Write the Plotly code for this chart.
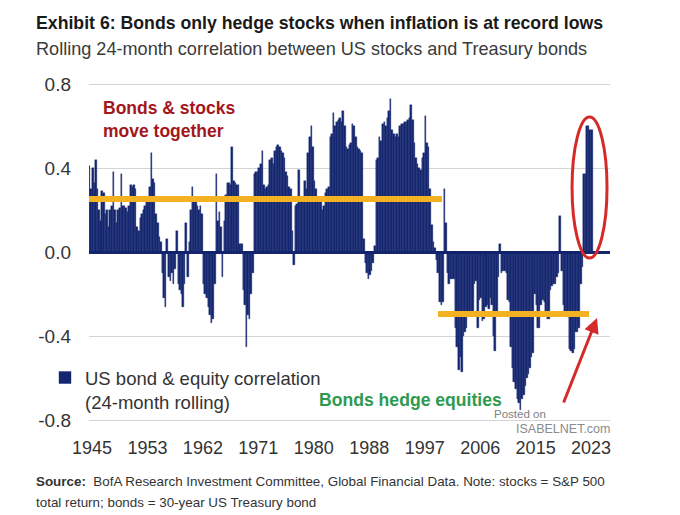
import plotly.graph_objects as go
import pandas as pd

# ---------------- data (quarterly readings, first bar = Q3 1944) ----------------
first_quarter = "1944-07-01"
corr_1944_1949 = [0.41, 0.30,
                  0.40, 0.33, 0.44, 0.30,
                  0.20, 0.15, 0.29, 0.28,
                  0.18, 0.20, 0.12, 0.20,
                  0.22, 0.38, 0.20, 0.14,
                  0.20, 0.21, 0.37, 0.22]
corr_1950s = [0.22, 0.21, 0.19, 0.22,
              0.32, 0.31, 0.32, 0.30,
              0.12, 0.10, 0.16, 0.18,
              0.20, 0.22, 0.25, 0.26,
              0.31, 0.47, 0.35, 0.33,
              0.18, 0.14, 0.07, 0.05,
              -0.10, -0.22, -0.26, 0.06,
              -0.12, -0.14, -0.10, -0.15,
              -0.08, 0.10, -0.15, -0.18,
              -0.20, -0.26, -0.15, 0.14]
corr_1960s = [-0.12, 0.05, 0.20, 0.31,
              0.26, 0.24, 0.22, 0.20,
              0.22, 0.18, -0.15, -0.20,
              -0.22, -0.26, -0.30, -0.34,
              -0.32, -0.15, 0.37, 0.15,
              0.19, 0.12, -0.12, 0.15,
              0.27, 0.33, 0.33, 0.32,
              0.50, 0.34, 0.33, 0.32,
              0.32, 0.04, 0.04, -0.18,
              -0.25, -0.45, -0.30, -0.32]
corr_1970s = [-0.20, -0.10, 0.37, 0.38,
              0.38, 0.40, 0.42, 0.48,
              0.32, 0.30, 0.31, 0.32,
              0.44, 0.45, 0.42, 0.48,
              0.50, 0.51, 0.50, 0.48,
              0.47, 0.45, 0.38, 0.36,
              0.31, 0.30, 0.10, -0.06,
              0.22, 0.23, 0.39, 0.25,
              0.24, 0.25, 0.34, 0.30,
              0.47, 0.55, 0.60, 0.50]
corr_1980s = [0.34, 0.30, 0.25, 0.24,
              0.26, 0.20, 0.22, 0.28,
              0.30, 0.31, 0.55, 0.56,
              0.66, 0.60, 0.62, 0.63,
              0.64, 0.62, 0.67, 0.60,
              0.50, 0.49, 0.51, 0.52,
              0.61, 0.60, 0.55, 0.50,
              0.49, 0.48, 0.47, 0.06,
              -0.05, -0.10, -0.13, -0.11,
              -0.09, -0.05, 0.03, 0.44]
corr_1990s = [0.45, 0.55, 0.53, 0.61,
              0.62, 0.60, 0.64, 0.67,
              0.73, 0.58, 0.56, 0.55,
              0.56, 0.55, 0.60, 0.61,
              0.61, 0.62, 0.62, 0.63,
              0.64, 0.70, 0.63, 0.52,
              0.45, 0.42, 0.40, 0.39,
              0.45, 0.47, 0.65, 0.52,
              0.50, 0.30, 0.13, 0.05,
              0.02, -0.04, -0.10, -0.24]
corr_2000s = [-0.25, -0.24, 0.30, 0.14,
              -0.10, -0.15, -0.13, -0.13,
              -0.13, -0.36, -0.45, -0.56,
              -0.50, -0.57, -0.40, -0.38,
              -0.36, -0.30, -0.30, -0.29,
              -0.30, -0.15, -0.14, -0.36,
              -0.23, -0.22, -0.33, -0.32,
              -0.26, -0.25, -0.27, -0.22,
              -0.25, -0.40, -0.47, -0.30,
              -0.12, 0.04, -0.10, -0.09]
corr_2010s = [-0.09, -0.10, -0.23, -0.24,
              -0.45, -0.55, -0.62, -0.65,
              -0.70, -0.72, -0.75, -0.70,
              -0.68, -0.64, -0.60, -0.58,
              -0.55, -0.50, -0.48, -0.20,
              -0.25, -0.36, -0.36, -0.25,
              -0.23, -0.24, -0.30, -0.32,
              -0.32, -0.18, -0.16, -0.15,
              -0.15, -0.12, -0.10, 0.17,
              -0.09, -0.25, -0.30, -0.30]
corr_2020s = [-0.31, -0.46, -0.47, -0.48,
              -0.46, -0.38, -0.38, -0.36,
              -0.15, -0.07, 0.37, 0.37,
              0.60, 0.60, 0.58, 0.58]

tick_dates = ["1945-01-01", "1953-10-01", "1962-07-01", "1971-04-01", "1980-01-01",
              "1988-10-01", "1997-07-01", "2006-04-01", "2015-01-01", "2023-10-01"]
tick_labels = ["1945", "1953", "1962", "1971", "1980", "1988", "1997", "2006", "2015", "2023"]
y_ticks = [-0.8, -0.4, 0.0, 0.4, 0.8]
y_tick_labels = ["-0.8", "-0.4", "0.0", "0.4", "0.8"]

together_level = 0.252      # average correlation, "move together" regime
hedge_level = -0.295        # average correlation, "hedge" regime

title = "Exhibit 6: Bonds only hedge stocks when inflation is at record lows"
subtitle = "Rolling 24-month correlation between US stocks and Treasury bonds"
series_name = "US bond & equity correlation<br>(24-month rolling)"
source_line1 = "<b>Source:</b>  BofA Research Investment Committee, Global Financial Data. Note: stocks = S&P 500"
source_line2 = "total return; bonds = 30-year US Treasury bond"

# ---------------- build ----------------
values = (corr_1944_1949 + corr_1950s + corr_1960s + corr_1970s + corr_1980s
          + corr_1990s + corr_2000s + corr_2010s + corr_2020s)
dates = pd.date_range(first_quarter, periods=len(values), freq="QS")
QUARTER_MS = 0.25 * 365.25 * 86400000

NAVY = "#14266f"
FONT = "Liberation Sans, Arial, sans-serif"

OFF = 8                       # page body margin
W, H = 680 - OFF, 515 - OFF
L, R, T, B = 89 - OFF, 610 - OFF, 70 - OFF, 430 - OFF


def xp(px):
    """page pixel -> paper x"""
    return (px - OFF - L) / (R - L)


def yp(py):
    """page pixel -> paper y"""
    return (B - (py - OFF)) / (B - T)


fig = go.Figure()
fig.add_trace(go.Bar(
    x=dates, y=values, name=series_name,
    marker=dict(color=NAVY, line=dict(color=NAVY, width=0.4)),
    width=QUARTER_MS, offset=0, showlegend=True,
))

x_start = "1944-07-11"
x_end = "2026-09-27"

fig.update_layout(
    width=W, height=H,
    margin=dict(l=L, r=W - R, t=T, b=H - B, pad=0),
    paper_bgcolor="white", plot_bgcolor="white",
    bargap=0,
    font=dict(family=FONT, color="#333333"),
    xaxis=dict(
        type="date", range=[x_start, x_end],
        tickvals=tick_dates, ticktext=tick_labels,
        showgrid=False, zeroline=False, showline=False, ticks="",
        ticklabelstandoff=5,
        tickfont=dict(size=18, color="#333333"),
    ),
    yaxis=dict(
        range=[-0.8 - 10 / 210, 0.8 + 14 / 210],
        tickvals=y_ticks, ticktext=y_tick_labels,
        showgrid=True, gridcolor="#d4d4d4", gridwidth=1,
        zeroline=True, zerolinecolor=NAVY, zerolinewidth=2.5,
        showline=False, ticks="", ticklabelstandoff=17,
        tickfont=dict(size=19, color="#333333"),
    ),
    legend=dict(
        x=xp(45), y=yp(359), xanchor="left", yanchor="top",
        bgcolor="rgba(0,0,0,0)", valign="top",
        font=dict(size=18.5, color="#333333", family=FONT),
        itemclick=False,
    ),
)

# regime averages
fig.add_shape(type="line", xref="x", yref="y", x0=x_start, x1="2000-03-25",
              y0=together_level, y1=together_level,
              line=dict(color="#f4b223", width=6))
fig.add_shape(type="line", xref="x", yref="y", x0="1999-08-07", x1="2023-06-07",
              y0=hedge_level, y1=hedge_level,
              line=dict(color="#f4b223", width=6))
# highlight of the latest readings
fig.add_shape(type="circle", xref="x", yref="y", x0="2020-10-01", x1="2026-04-08",
              y0=-0.029, y1=0.643, line=dict(color="#d42a2a", width=3))

# arrow
fig.add_annotation(x="2024-09-10", y=-0.314, xref="x", yref="y", text="",
                   showarrow=True, ax=-34, ay=86, arrowhead=2, arrowsize=1,
                   arrowwidth=3, arrowcolor="#d42a2a")

# texts
fig.add_annotation(x=xp(34), y=yp(23), xref="paper", yref="paper", xanchor="left", yanchor="middle",
                   text="<b>" + title + "</b>", showarrow=False,
                   font=dict(family=FONT, size=17.7, color="#1a1a1a"))
fig.add_annotation(x=xp(34), y=yp(49), xref="paper", yref="paper", xanchor="left", yanchor="middle",
                   text=subtitle, showarrow=False,
                   font=dict(family=FONT, size=18.1, color="#3a3a3a"))
fig.add_annotation(x=xp(101), y=yp(120), xref="paper", yref="paper", xanchor="left", yanchor="middle",
                   align="left", text="<b>Bonds & stocks<br>move together</b>", showarrow=False,
                   font=dict(family=FONT, size=17.5, color="#a3161c"))
fig.add_annotation(x=xp(317), y=yp(400), xref="paper", yref="paper", xanchor="left", yanchor="middle",
                   text="<b>Bonds hedge equities</b>", showarrow=False,
                   font=dict(family=FONT, size=17.6, color="#2e9a50"))
fig.add_annotation(x=xp(492), y=yp(414), xref="paper", yref="paper", xanchor="left", yanchor="middle",
                   text="Posted on", showarrow=False,
                   font=dict(family=FONT, size=11.5, color="#808080"))
fig.add_annotation(x=xp(514), y=yp(429), xref="paper", yref="paper", xanchor="left", yanchor="middle",
                   text="ISABELNET.com", showarrow=False,
                   font=dict(family=FONT, size=12.5, color="#8a8a8a"))
fig.add_annotation(x=xp(34), y=yp(481), xref="paper", yref="paper", xanchor="left", yanchor="middle",
                   text=source_line1, showarrow=False,
                   font=dict(family=FONT, size=13.4, color="#333333"))
fig.add_annotation(x=xp(34), y=yp(502), xref="paper", yref="paper", xanchor="left", yanchor="middle",
                   text=source_line2, showarrow=False,
                   font=dict(family=FONT, size=13.4, color="#333333"))

fig.write_html("out.html")
